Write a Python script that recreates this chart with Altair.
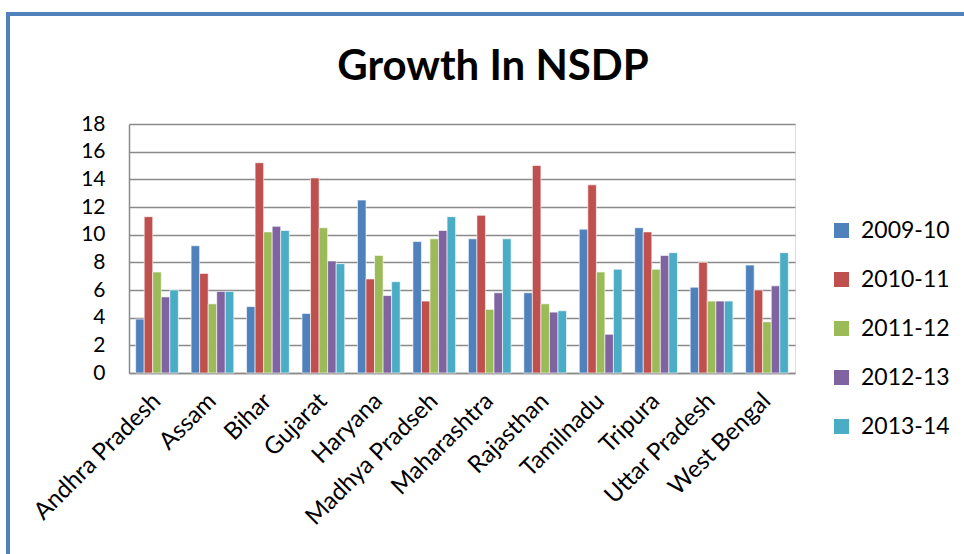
import altair as alt
import pandas as pd

states = ["Andhra Pradesh", "Assam", "Bihar", "Gujarat", "Haryana", "Madhya Pradseh",
          "Maharashtra", "Rajasthan", "Tamilnadu", "Tripura", "Uttar Pradesh", "West Bengal"]
years = ["2009-10", "2010-11", "2011-12", "2012-13", "2013-14"]

g_2009_10 = [3.9, 9.2, 4.8, 4.3, 12.5, 9.5, 9.7, 5.8, 10.4, 10.5, 6.2, 7.8]
g_2010_11 = [11.3, 7.2, 15.2, 14.1, 6.8, 5.2, 11.4, 15.0, 13.6, 10.2, 8.0, 6.0]
g_2011_12 = [7.3, 5.0, 10.2, 10.5, 8.5, 9.7, 4.6, 5.0, 7.3, 7.5, 5.2, 3.7]
g_2012_13 = [5.5, 5.9, 10.6, 8.1, 5.6, 10.3, 5.8, 4.4, 2.8, 8.5, 5.2, 6.3]
g_2013_14 = [6.0, 5.9, 10.3, 7.9, 6.6, 11.3, 9.7, 4.5, 7.5, 8.7, 5.2, 8.7]

title_text = "Growth In NSDP"
colors = ["#4F81BD", "#C0504D", "#9BBB59", "#8064A2", "#4BACC6"]

series = [g_2009_10, g_2010_11, g_2011_12, g_2012_13, g_2013_14]
rows = []
for yr, vals in zip(years, series):
    for st, v in zip(states, vals):
        rows.append({"state": st, "year": yr, "growth": v})
df = pd.DataFrame(rows)

FONT = "Lato"

bars = alt.Chart(df).mark_bar(stroke="white", strokeWidth=0.6).encode(
    x=alt.X("state:N", sort=states, title=None,
            scale=alt.Scale(paddingInner=0.23, paddingOuter=0.12),
            axis=alt.Axis(labelAngle=-45, labelAlign="right", labelBaseline="middle",
                          labelFontSize=24, labelPadding=24, ticks=False,
                          domainColor="#8a8a8a", domainWidth=1.5, labelColor="black",
                          labelFont=FONT)),
    xOffset=alt.XOffset("year:N", sort=years, scale=alt.Scale(paddingInner=0, paddingOuter=0)),
    y=alt.Y("growth:Q", title=None,
            scale=alt.Scale(domain=[0, 18], nice=False),
            axis=alt.Axis(values=list(range(0, 19, 2)), labelFontSize=21, labelPadding=24,
                          ticks=False, grid=True, gridColor="#8a8a8a", gridWidth=1.5,
                          domainColor="#8a8a8a", domainWidth=1.5, labelColor="black",
                          labelFont=FONT)),
    color=alt.Color("year:N", sort=years, scale=alt.Scale(domain=years, range=colors),
                    legend=alt.Legend(title=None, orient="none", legendX=701, legendY=95,
                                      symbolType="square", symbolSize=225,
                                      symbolStrokeWidth=0, labelFontSize=23,
                                      labelFont=FONT, labelColor="black",
                                      rowPadding=25, labelOffset=8)),
)

# chart heading, placed above the plot area
heading = alt.Chart().mark_text(
    text=title_text, font=FONT, fontSize=42, fontWeight="bold", color="black",
    align="center", baseline="alphabetic",
).encode(x=alt.value(364), y=alt.value(-44))

# outer blue frame along the left and top edges
frame_top = alt.Chart().mark_rule(color="#4F81BD", strokeWidth=4).encode(
    x=alt.value(-121), x2=alt.value(840), y=alt.value(-110))
frame_left = alt.Chart().mark_rule(color="#4F81BD", strokeWidth=4).encode(
    x=alt.value(-121), y=alt.value(-112), y2=alt.value(440))

chart = alt.layer(bars, heading, frame_top, frame_left).properties(
    width=666, height=249,
    autosize=alt.AutoSizeParams(type="none"),
    padding={"left": 129, "top": 124, "right": 169, "bottom": 181},
).configure_view(stroke=None).configure(background="white")

chart.save("out.html", embed_options={"renderer": "svg", "actions": False})
